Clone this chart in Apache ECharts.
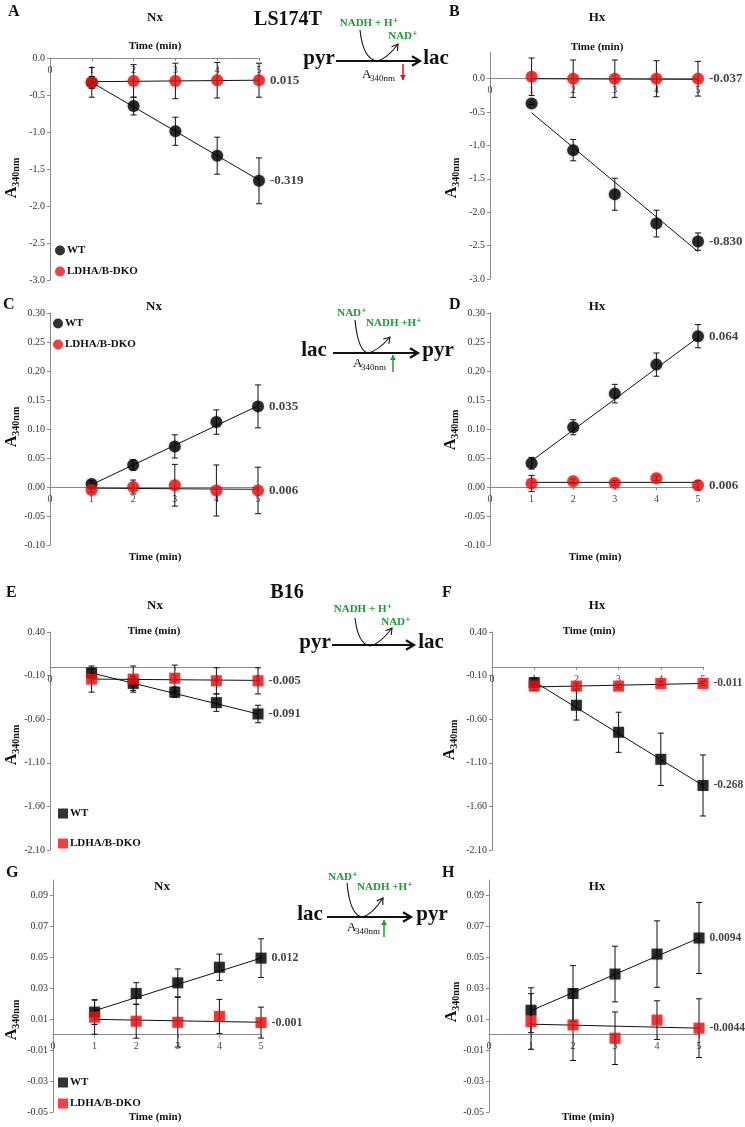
<!DOCTYPE html>
<html>
<head>
<meta charset="utf-8">
<script src="https://cdn.jsdelivr.net/npm/echarts@6/dist/echarts.min.js"></script>
<style>
html, body { margin: 0; padding: 0; background: #fff; }
#chart { width: 745px; height: 1127px; }
</style>
</head>
<body>
<div id="chart"></div>
<script>
const SERIF = '"Liberation Serif", "DejaVu Serif", serif';
const RED = "#f01010";
const GREEN = "#1e9a35";

// time points and tick labels
const time = [1, 2, 3, 4, 5];
const ticksLS = [-3.0, -2.5, -2.0, -1.5, -1.0, -0.5, 0.0];
const ticksLSrev = [-0.10, -0.05, 0.00, 0.05, 0.10, 0.15, 0.20, 0.25, 0.30];
const ticksB16 = [-2.10, -1.60, -1.10, -0.60, -0.10, 0.40];
const ticksB16rev = [-0.05, -0.03, -0.01, 0.01, 0.03, 0.05, 0.07, 0.09];

// A  LS174T Nx  pyr -> lac
const aWT = [-0.33, -0.65, -0.99, -1.32, -1.66];
const aWTErr = [0.08, 0.12, 0.19, 0.25, 0.31];
const aKO = [-0.33, -0.31, -0.31, -0.30, -0.30];
const aKOErr = [0.20, 0.22, 0.24, 0.24, 0.23];
const aWTFit = [-0.33, -1.65];
const aKOFit = [-0.32, -0.30];
const aSlopes = ["-0.319", "0.015"];

// B  LS174T Hx
const bWT = [-0.37, -1.07, -1.73, -2.17, -2.44];
const bWTErr = [0.02, 0.16, 0.24, 0.20, 0.13];
const bKO = [0.03, 0.0, 0.0, 0.0, 0.0];
const bKOErr = [0.28, 0.28, 0.28, 0.27, 0.26];
const bWTFit = [-0.51, -2.59];
const bKOFit = [0.0, -0.01];
const bSlopes = ["-0.830", "-0.037"];

// C  LS174T Nx  lac -> pyr
const cWT = [0.005, 0.038, 0.070, 0.112, 0.139];
const cWTErr = [0.006, 0.009, 0.020, 0.021, 0.037];
const cKO = [-0.005, 0.000, 0.003, -0.006, -0.006];
const cKOErr = [0.004, 0.012, 0.036, 0.044, 0.040];
const cWTFit = [0.004, 0.140];
const cKOFit = [-0.002, -0.004];
const cSlopes = ["0.035", "0.006"];

// D  LS174T Hx
const dWT = [0.041, 0.103, 0.161, 0.211, 0.260];
const dWTErr = [0.010, 0.013, 0.016, 0.020, 0.020];
const dKO = [0.006, 0.010, 0.007, 0.015, 0.003];
const dKOErr = [0.014, 0.004, 0.004, 0.004, 0.008];
const dWTFit = [0.045, 0.258];
const dKOFit = [0.008, 0.008];
const dSlopes = ["0.064", "0.006"];

// E  B16 Nx  pyr -> lac
const eWT = [-0.07, -0.19, -0.29, -0.41, -0.54];
const eWTErr = [0.05, 0.08, 0.06, 0.10, 0.10];
const eKO = [-0.14, -0.14, -0.13, -0.16, -0.16];
const eKOErr = [0.15, 0.15, 0.15, 0.15, 0.15];
const eWTFit = [-0.07, -0.54];
const eKOFit = [-0.14, -0.155];
const eSlopes = ["-0.091", "-0.005"];

// F  B16 Hx
const fWT = [-0.18, -0.44, -0.75, -1.06, -1.36];
const fWTErr = [0.05, 0.17, 0.23, 0.30, 0.35];
const fKO = [-0.22, -0.22, -0.22, -0.19, -0.19];
const fKOErr = [0.05, 0.03, 0.02, 0.02, 0.02];
const fWTFit = [-0.17, -1.36];
const fKOFit = [-0.23, -0.19];
const fSlopes = ["-0.268", "-0.011"];

// G  B16 Nx  lac -> pyr
const gWT = [0.0146, 0.0266, 0.0335, 0.0436, 0.0495];
const gWTErr = [0.008, 0.007, 0.009, 0.0085, 0.0125];
const gKO = [0.0113, 0.0087, 0.0080, 0.0118, 0.0078];
const gKOErr = [0.011, 0.011, 0.016, 0.011, 0.010];
const gWTFit = [0.0155, 0.0495];
const gKOFit = [0.0099, 0.0080];
const gSlopes = ["0.012", "-0.001"];

// H  B16 Hx
const hWT = [0.0158, 0.0266, 0.0392, 0.0521, 0.0625];
const hWTErr = [0.0145, 0.018, 0.018, 0.0215, 0.023];
const hKO = [0.0085, 0.0063, -0.0023, 0.0094, 0.0042];
const hKOErr = [0.018, 0.023, 0.017, 0.0125, 0.019];
const hWTFit = [0.0155, 0.0625];
const hKOFit = [0.0068, 0.0042];
const hSlopes = ["0.0094", "-0.0044"];

const panels = [
  { wt: aWT, wtErr: aWTErr, ko: aKO, koErr: aKOErr, wtFit: aWTFit, koFit: aKOFit, slopes: aSlopes,
    ticks: ticksLS, min: -3, max: 0, dec: 1, sym: "circle", box: [50, 58, 209, 222], fs: 13 },
  { wt: bWT, wtErr: bWTErr, ko: bKO, koErr: bKOErr, wtFit: bWTFit, koFit: bKOFit, slopes: bSlopes,
    ticks: ticksLS, min: -3, max: 0.4, dec: 1, sym: "circle", box: [490, 52, 208, 227], fs: 13 },
  { wt: cWT, wtErr: cWTErr, ko: cKO, koErr: cKOErr, wtFit: cWTFit, koFit: cKOFit, slopes: cSlopes,
    ticks: ticksLSrev, min: -0.1, max: 0.3, dec: 2, sym: "circle", box: [50, 313, 208, 232], fs: 13 },
  { wt: dWT, wtErr: dWTErr, ko: dKO, koErr: dKOErr, wtFit: dWTFit, koFit: dKOFit, slopes: dSlopes,
    ticks: ticksLSrev, min: -0.1, max: 0.3, dec: 2, sym: "circle", box: [490, 313, 208, 232], fs: 13 },
  { wt: eWT, wtErr: eWTErr, ko: eKO, koErr: eKOErr, wtFit: eWTFit, koFit: eKOFit, slopes: eSlopes,
    ticks: ticksB16, min: -2.1, max: 0.4, dec: 2, sym: "rect", box: [50, 632, 208, 218], fs: 12.5 },
  { wt: fWT, wtErr: fWTErr, ko: fKO, koErr: fKOErr, wtFit: fWTFit, koFit: fKOFit, slopes: fSlopes,
    ticks: ticksB16, min: -2.1, max: 0.4, dec: 2, sym: "rect", box: [492, 632, 211, 218], fs: 11.5 },
  { wt: gWT, wtErr: gWTErr, ko: gKO, koErr: gKOErr, wtFit: gWTFit, koFit: gKOFit, slopes: gSlopes,
    ticks: ticksB16rev, min: -0.05, max: 0.10, dec: 2, sym: "rect", box: [53, 880, 208, 232], fs: 12 },
  { wt: hWT, wtErr: hWTErr, ko: hKO, koErr: hKOErr, wtFit: hWTFit, koFit: hKOFit, slopes: hSlopes,
    ticks: ticksB16rev, min: -0.05, max: 0.10, dec: 2, sym: "rect", box: [489, 880, 210, 232], fs: 11.5 },
];

function errBars(gi, vals, errs) {
  return {
    type: "custom",
    xAxisIndex: gi,
    yAxisIndex: gi,
    z: 3,
    silent: true,
    data: time.map((t, j) => [t, vals[j] - errs[j], vals[j] + errs[j]]),
    renderItem(params, api) {
      const lo = api.coord([api.value(0), api.value(1)]);
      const hi = api.coord([api.value(0), api.value(2)]);
      const st = { stroke: "#111", lineWidth: 1 };
      return {
        type: "group",
        children: [
          { type: "line", shape: { x1: lo[0], y1: lo[1], x2: hi[0], y2: hi[1] }, style: st },
          { type: "line", shape: { x1: lo[0] - 3, y1: lo[1], x2: lo[0] + 3, y2: lo[1] }, style: st },
          { type: "line", shape: { x1: hi[0] - 3, y1: hi[1], x2: hi[0] + 3, y2: hi[1] }, style: st },
        ],
      };
    },
  };
}

function points(gi, name, vals, color, sym, slope, fs) {
  return {
    type: "scatter",
    name: name,
    xAxisIndex: gi,
    yAxisIndex: gi,
    z: name === "WT" ? 4 : 5,
    symbol: sym,
    symbolSize: sym === "circle" ? 12 : 11,
    itemStyle: { color: color, shadowBlur: 3, shadowColor: "rgba(0,0,0,0.3)" },
    label: {
      position: "right", distance: 5, fontFamily: SERIF, fontWeight: "bold",
      fontSize: fs, color: "#111",
    },
    data: time.map((t, j) =>
      j === time.length - 1
        ? { value: [t, vals[j]], label: { show: true, formatter: slope } }
        : [t, vals[j]]
    ),
  };
}

function fitLine(gi, ends) {
  return {
    type: "line",
    xAxisIndex: gi,
    yAxisIndex: gi,
    z: 2,
    silent: true,
    symbol: "none",
    lineStyle: { color: "#111", width: 1 },
    data: [[time[0], ends[0]], [time[time.length - 1], ends[1]]],
  };
}

const grids = [], xAxes = [], yAxes = [], series = [];
panels.forEach((p, i) => {
  grids.push({ left: p.box[0], top: p.box[1], width: p.box[2], height: p.box[3], outerBoundsMode: "none" });
  // time axis sits on the zero line, labels just below it
  const zeroUp = (0 - p.min) / (p.max - p.min) * p.box[3];
  xAxes.push({
    type: "value", gridIndex: i, min: 0, max: 5, interval: 1,
    position: "bottom", offset: -zeroUp,
    axisLine: { onZero: false, lineStyle: { color: "#8a8a8a" } },
    axisTick: { show: true, length: 3, lineStyle: { color: "#8a8a8a" } },
    axisLabel: { fontFamily: SERIF, fontSize: 10, color: "#444", margin: 7 },
    splitLine: { show: false },
  });
  yAxes.push({
    type: "value", gridIndex: i, min: p.min, max: p.max,
    axisLine: { show: true, onZero: false, lineStyle: { color: "#8a8a8a" } },
    axisTick: { show: true, length: 3, customValues: p.ticks, lineStyle: { color: "#8a8a8a" } },
    axisLabel: {
      customValues: p.ticks, formatter: (v) => v.toFixed(p.dec),
      fontFamily: SERIF, fontSize: 10, color: "#333", margin: 5,
    },
    splitLine: { show: false },
  });
  series.push(fitLine(i, p.wtFit));
  series.push(fitLine(i, p.koFit));
  series.push(errBars(i, p.wt, p.wtErr));
  series.push(errBars(i, p.ko, p.koErr));
  series.push(points(i, "WT", p.wt, "#000", p.sym, p.slopes[0], p.fs));
  series.push(points(i, "LDHA/B-DKO", p.ko, RED, p.sym, p.slopes[1], p.fs));
});

function legendAt(left, top, icon, gap) {
  return {
    data: ["WT", "LDHA/B-DKO"], orient: "vertical", left: left, top: top, icon: icon,
    itemWidth: 10, itemHeight: 10, itemGap: gap, selectedMode: false, padding: 0,
    textStyle: { fontFamily: SERIF, fontWeight: "bold", fontSize: 11, color: "#111", padding: [0, 0, 0, -3] },
  };
}

// ---- texts and reaction diagrams ----
const g = [];
function txt(x, y, text, size, opts) {
  opts = opts || {};
  g.push({
    type: "text", x: x, y: y, z: 10,
    style: {
      text: text, fill: opts.color || "#111",
      font: (opts.normal ? "" : "bold ") + size + "px " + SERIF,
      textAlign: opts.align || "center", textVerticalAlign: "middle",
    },
  });
}
function yName(x, y) {
  g.push({
    type: "text", x: x, y: y, rotation: Math.PI / 2, z: 10,
    style: {
      text: "{a|A}{s|340nm}", textAlign: "center", textVerticalAlign: "middle",
      rich: {
        a: { fontFamily: SERIF, fontWeight: "bold", fontSize: 16, lineHeight: 19, fill: "#111" },
        s: { fontFamily: SERIF, fontWeight: "bold", fontSize: 10, verticalAlign: "bottom", fill: "#111" },
      },
    },
  });
}
function arrow(x1, y1, x2, y2, color, w, head, filled) {
  g.push({ type: "line", z: 10, shape: { x1, y1, x2, y2 }, style: { stroke: color, lineWidth: w } });
  arrowHead(x1, y1, x2, y2, color, w, head, filled);
}
function arrowHead(fx, fy, x2, y2, color, w, head, filled) {
  const len = Math.hypot(x2 - fx, y2 - fy);
  const ux = (x2 - fx) / len, uy = (y2 - fy) / len;
  const px = -uy, py = ux;
  const pts = [
    [x2 - head * ux + head * 0.6 * px, y2 - head * uy + head * 0.6 * py],
    [x2, y2],
    [x2 - head * ux - head * 0.6 * px, y2 - head * uy - head * 0.6 * py],
  ];
  if (filled) {
    g.push({ type: "polygon", z: 10, shape: { points: pts }, style: { fill: color } });
  } else {
    g.push({ type: "polyline", z: 10, shape: { points: pts }, style: { stroke: color, lineWidth: w, fill: null } });
  }
}
function swoosh(sx, sy, bx, by, ex, ey) {
  const st = { stroke: "#111", lineWidth: 1.1, fill: null };
  g.push({ type: "bezierCurve", z: 10, shape: { x1: sx, y1: sy, cpx1: sx + 3, cpy1: by - 2, x2: bx, y2: by }, style: st });
  g.push({ type: "bezierCurve", z: 10, shape: { x1: bx, y1: by, cpx1: bx + 10, cpy1: by - 2, x2: ex, y2: ey }, style: st });
  arrowHead(bx + 10, by - 2, ex, ey, "#111", 1.1, 6, false);
}
function a340(x, y) {
  txt(x, y, "A", 13, { normal: true, align: "left" });
  txt(x + 8, y + 4, "340nm", 9, { normal: true, align: "left" });
}

// panel letters
txt(8, 12, "A", 16, { align: "left" });
txt(449, 12, "B", 16, { align: "left" });
txt(3, 305, "C", 16, { align: "left" });
txt(449, 305, "D", 16, { align: "left" });
txt(6, 593, "E", 16, { align: "left" });
txt(442, 593, "F", 16, { align: "left" });
txt(6, 873, "G", 16, { align: "left" });
txt(442, 873, "H", 16, { align: "left" });

// panel titles
[[155, 18, "Nx"], [597, 18, "Hx"], [154, 307, "Nx"], [597, 307, "Hx"],
 [155, 606, "Nx"], [597, 606, "Hx"], [162, 887, "Nx"], [597, 887, "Hx"]]
  .forEach((t) => txt(t[0], t[1], t[2], 13));

// axis titles
[[155, 46], [597, 47], [155, 557], [595, 557], [154, 631], [589, 631], [155, 1117], [588, 1117]]
  .forEach((t) => txt(t[0], t[1], "Time (min)", 11));
[[12, 178], [452, 178], [12, 427], [451, 430], [12, 745], [450, 740], [12, 1020], [452, 1002]]
  .forEach((t) => yName(t[0], t[1]));

// cell line labels
txt(288, 20, "LS174T", 20);
txt(287, 593, "B16", 20);

// diagram 1: pyr -> lac (LS174T)
txt(369, 23, "NADH + H\u207A", 11, { color: GREEN });
txt(403, 36, "NAD\u207A", 11, { color: GREEN });
txt(319, 59, "pyr", 21);
txt(436, 59, "lac", 21);
arrow(336, 61, 420, 61, "#111", 2.2, 8, false);
swoosh(360, 30, 377, 61, 398, 44);
a340(362, 75);
arrow(403, 64, 403, 80, RED, 1.5, 5, true);

// diagram 2: lac -> pyr (LS174T)
txt(352, 313, "NAD\u207A", 11, { color: GREEN });
txt(394, 323, "NADH +H\u207A", 11, { color: GREEN });
txt(314, 351, "lac", 21);
txt(438, 351, "pyr", 21);
arrow(333, 353, 418, 353, "#111", 2.2, 8, false);
swoosh(355, 320, 368, 353, 390, 337);
a340(353, 364);
arrow(393, 372, 393, 355, GREEN, 1.5, 5, true);

// diagram 3: pyr -> lac (B16)
txt(363, 609, "NADH + H\u207A", 11, { color: GREEN });
txt(396, 622, "NAD\u207A", 11, { color: GREEN });
txt(315, 643, "pyr", 21);
txt(431, 643, "lac", 21);
arrow(332, 645, 414, 645, "#111", 2.2, 8, false);
swoosh(355, 618, 370, 646, 392, 628);

// diagram 4: lac -> pyr (B16)
txt(343, 877, "NAD\u207A", 11, { color: GREEN });
txt(385, 887, "NADH +H\u207A", 11, { color: GREEN });
txt(310, 915, "lac", 21);
txt(432, 915, "pyr", 21);
arrow(327, 917, 411, 917, "#111", 2.2, 8, false);
swoosh(347, 883, 362, 917, 383, 898);
a340(347, 928);
arrow(384, 937, 384, 920, GREEN, 1.5, 5, true);

const chart = echarts.init(document.getElementById("chart"));
chart.setOption({
  animation: false,
  backgroundColor: "#fff",
  grid: grids,
  xAxis: xAxes,
  yAxis: yAxes,
  legend: [
    legendAt(55, 245, "circle", 10),
    legendAt(53, 318, "circle", 10),
    legendAt(58, 808, "rect", 19),
    legendAt(58, 1077, "rect", 10),
  ],
  graphic: g,
  series: series,
});
</script>
</body>
</html>
